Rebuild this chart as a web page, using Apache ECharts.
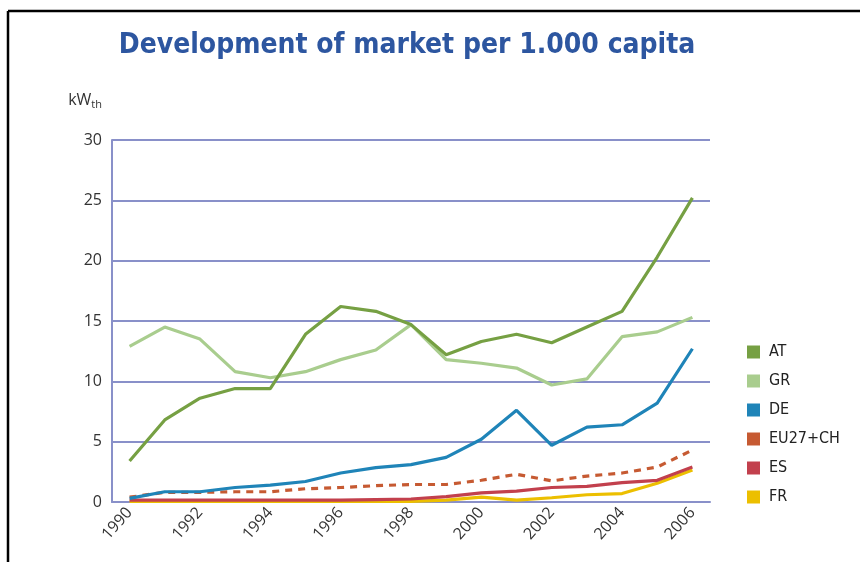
<!DOCTYPE html>
<html>
<head>
<meta charset="utf-8">
<script src="https://cdn.jsdelivr.net/npm/echarts@6/dist/echarts.min.js"></script>
<style>
  html, body { margin: 0; padding: 0; background: #fff; }
  #main { width: 860px; height: 562px; }
</style>
</head>
<body>
<div id="main"></div>
<script>
const years = ['1990', '1991', '1992', '1993', '1994', '1995', '1996', '1997', '1998',
               '1999', '2000', '2001', '2002', '2003', '2004', '2005', '2006']
const AT = [3.4, 6.8, 8.6, 9.4, 9.4, 13.9, 16.2, 15.8, 14.7, 12.2, 13.3, 13.9, 13.2, 14.5, 15.8, 20.3, 25.2]
const GR = [12.9, 14.5, 13.5, 10.8, 10.3, 10.8, 11.8, 12.6, 14.7, 11.8, 11.5, 11.1, 9.7, 10.2, 13.7, 14.1, 15.3]
const DE = [0.3, 0.85, 0.85, 1.2, 1.4, 1.7, 2.4, 2.85, 3.1, 3.7, 5.2, 7.6, 4.7, 6.2, 6.4, 8.2, 12.7]
const EU27CH = [0.4, 0.8, 0.8, 0.85, 0.85, 1.1, 1.2, 1.35, 1.45, 1.45, 1.8, 2.3, 1.75, 2.15, 2.4, 2.9, 4.3]
const ES = [0.15, 0.15, 0.15, 0.15, 0.15, 0.15, 0.15, 0.2, 0.25, 0.45, 0.75, 0.9, 1.2, 1.3, 1.6, 1.8, 2.9]
const FR = [0.05, 0.05, 0.05, 0.05, 0.05, 0.05, 0.05, 0.05, 0.05, 0.15, 0.4, 0.15, 0.35, 0.6, 0.7, 1.55, 2.65]

const axisBlue = '#8990c9'
const myChart = echarts.init(document.getElementById('main'))

function lineSeries(name, data, color, dashed) {
    return {
        name: name,
        type: 'line',
        data: data,
        symbol: 'none',
        lineStyle: { color: color, width: 3.2, type: dashed ? [7, 6] : 'solid' },
        itemStyle: { color: color }
    }
}

const option = {
    animation: false,
    title: {
        text: 'Development of market per 1.000 capita',
        left: 402,
        top: 27,
        textAlign: 'center',
        textStyle: {
            color: '#2d56a0',
            fontSize: 28,
            fontWeight: 'bold',
            fontFamily: 'Liberation Sans Narrow, DejaVu Sans Condensed, sans-serif'
        }
    },
    legend: {
        orient: 'vertical',
        left: 742,
        top: 339,
        itemWidth: 13,
        itemHeight: 13,
        itemGap: 13,
        icon: 'rect',
        textStyle: {
            fontSize: 16,
            color: '#222',
            padding: [0, 0, 0, 4],
            fontFamily: 'Liberation Sans Narrow, DejaVu Sans Condensed, sans-serif'
        },
        data: ['AT', 'GR', 'DE', 'EU27+CH', 'ES', 'FR']
    },
    grid: { left: 112, right: 150, top: 140, bottom: 60 },
    xAxis: {
        type: 'category',
        data: years,
        boundaryGap: true,
        axisLine: { lineStyle: { color: axisBlue, width: 2 } },
        axisTick: { inside: true, alignWithLabel: true, interval: 0, length: 7, lineStyle: { color: axisBlue, width: 2 } },
        axisLabel: {
            interval: 1,
            rotate: 48,
            color: '#333',
            fontSize: 16,
            fontFamily: 'Open Sans, sans-serif',
            margin: 8
        }
    },
    yAxis: {
        type: 'value',
        min: 0,
        max: 30,
        interval: 5,
        name: '{a|kW}{b|th}',
        nameLocation: 'end',
        nameGap: 30,
        nameTextStyle: {
            align: 'right',
            padding: [0, 10, 0, 0],
            rich: {
                a: { fontSize: 16, color: '#333', fontFamily: 'Open Sans, sans-serif' },
                b: { fontSize: 11, color: '#333', fontFamily: 'Open Sans, sans-serif', padding: [8, 0, 0, 0] }
            }
        },
        axisLine: { show: true, lineStyle: { color: axisBlue, width: 2 } },
        axisTick: { show: false },
        splitLine: { lineStyle: { color: axisBlue, width: 2 } },
        axisLabel: { color: '#333', fontSize: 16, margin: 10, fontFamily: 'Open Sans, sans-serif' }
    },
    graphic: [
        { type: 'line', shape: { x1: 8, y1: 11, x2: 860, y2: 11 }, style: { stroke: '#000', lineWidth: 2.5 } },
        { type: 'line', shape: { x1: 8, y1: 11, x2: 8, y2: 562 }, style: { stroke: '#000', lineWidth: 2.5 } }
    ],
    series: [
        lineSeries('FR', FR, '#ecbf00', false),
        lineSeries('ES', ES, '#c2404d', false),
        lineSeries('EU27+CH', EU27CH, '#c65a32', true),
        lineSeries('DE', DE, '#1f84b8', false),
        lineSeries('GR', GR, '#a9cd8e', false),
        lineSeries('AT', AT, '#76a043', false)
    ]
}

myChart.setOption(option)
</script>
</body>
</html>
